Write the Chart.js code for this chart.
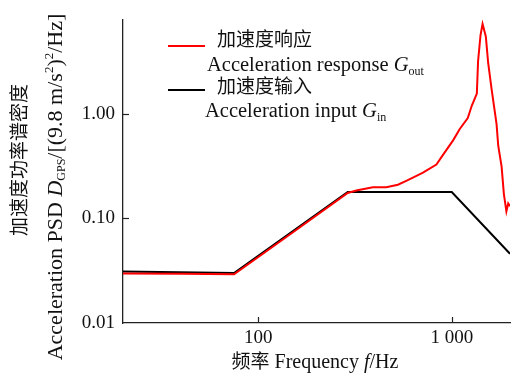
<!DOCTYPE html>
<html>
<head>
<meta charset="utf-8">
<script src="https://cdn.jsdelivr.net/npm/chart.js@4/dist/chart.umd.min.js"></script>
<style>
  html, body { margin: 0; padding: 0; background: #fff; }
  #wrap { width: 511px; height: 383px; }
</style>
</head>
<body>
<div id="wrap"><canvas id="c" width="511" height="383"></canvas></div>
<script>
// Input PSD profile (Hz, (9.8 m/s^2)^2/Hz)
const inputFreq = [20, 75, 290, 1000, 2000];
const inputPsd = [0.031, 0.030, 0.179, 0.179, 0.046];

// Measured response PSD
const respFreq = [20, 40, 75, 150, 290, 321, 391, 459, 527, 582, 630, 710, 833, 901, 1016, 1100, 1210, 1270, 1348, 1368, 1408, 1443, 1500, 1542, 1606, 1704, 1738, 1810, 1859, 1916, 1958, 2000];
const respPsd = [0.0298, 0.0296, 0.0292, 0.073, 0.175, 0.185, 0.199, 0.199, 0.210, 0.229, 0.246, 0.274, 0.327, 0.405, 0.558, 0.717, 0.91, 1.2, 1.56, 3.2, 5.64, 7.24, 5.49, 3.08, 1.73, 0.80, 0.50, 0.313, 0.172, 0.117, 0.139, 0.131];

// Axis ticks
const xTicks = [100, 1000];
const xTickLabels = ['100', '1 000'];
const yTicks = [0.01, 0.1, 1];
const yTickLabels = ['0.01', '0.10', '1.00'];

const SERIF = "'Liberation Serif', 'Times New Roman', serif";
const CJK = "'Noto Sans CJK SC', sans-serif";

function toPoints(xs, ys) { return xs.map((x, i) => ({ x: x, y: ys[i] })); }

// Draw a run of text pieces with their own fonts and vertical offsets
function drawRich(ctx, runs, x, y, align) {
  let total = 0;
  runs.forEach(r => { ctx.font = r[1]; total += ctx.measureText(r[0]).width; });
  let cx = align === 'center' ? x - total / 2 : x;
  runs.forEach(r => {
    ctx.font = r[1];
    ctx.fillText(r[0], cx, y + (r[2] || 0));
    cx += ctx.measureText(r[0]).width;
  });
}

const decorations = {
  id: 'decorations',
  afterDraw(chart) {
    const ctx = chart.ctx;
    const xs = chart.scales.x, ys = chart.scales.y;
    const area = chart.chartArea;
    ctx.save();
    // inward tick marks
    ctx.strokeStyle = '#222';
    ctx.lineWidth = 1.2;
    xTicks.forEach(v => {
      const px = Math.round(xs.getPixelForValue(v)) + 0.5;
      ctx.beginPath(); ctx.moveTo(px, area.bottom); ctx.lineTo(px, area.bottom - 6); ctx.stroke();
    });
    yTicks.slice(1).forEach(v => {
      const py = Math.round(ys.getPixelForValue(v)) + 0.5;
      ctx.beginPath(); ctx.moveTo(area.left, py); ctx.lineTo(area.left + 6, py); ctx.stroke();
    });

    ctx.fillStyle = '#111';
    ctx.textAlign = 'left';

    // x axis title
    ctx.textBaseline = 'alphabetic';
    drawRich(ctx, [
      ['频率', '19px ' + CJK, 0],
      [' Frequency ', '20px ' + SERIF, 0],
      ['f', 'italic 20px ' + SERIF, 0],
      ['/Hz', '20px ' + SERIF, 0]
    ], 315, 368, 'center');

    // y axis title (two rotated lines)
    ctx.save();
    ctx.translate(18.5, 160);
    ctx.rotate(-Math.PI / 2);
    ctx.textBaseline = 'middle';
    drawRich(ctx, [['加速度功率谱密度', '19px ' + CJK, 0]], 0, 0, 'center');
    ctx.restore();

    ctx.save();
    ctx.translate(61.5, 187);
    ctx.rotate(-Math.PI / 2);
    ctx.textBaseline = 'alphabetic';
    drawRich(ctx, [
      ['Acceleration PSD ', '22px ' + SERIF, 0],
      ['D', 'italic 22px ' + SERIF, 0],
      ['GPS', '12px ' + SERIF, 3],
      ['/[(9.8 m/s', '22px ' + SERIF, 0],
      ['2', '13px ' + SERIF, -9],
      [')', '22px ' + SERIF, 0],
      ['2', '13px ' + SERIF, -9],
      ['/Hz]', '22px ' + SERIF, 0]
    ], 0, 0, 'center');
    ctx.restore();

    // legend
    ctx.lineWidth = 2;
    ctx.strokeStyle = '#ff0000';
    ctx.beginPath(); ctx.moveTo(168, 46); ctx.lineTo(205, 46); ctx.stroke();
    ctx.strokeStyle = '#000';
    ctx.beginPath(); ctx.moveTo(168, 90); ctx.lineTo(205, 90); ctx.stroke();

    ctx.textBaseline = 'middle';
    drawRich(ctx, [['加速度响应', '19px ' + CJK, 0]], 217, 38.5, 'left');
    drawRich(ctx, [['加速度输入', '19px ' + CJK, 0]], 217, 86, 'left');
    ctx.textBaseline = 'alphabetic';
    drawRich(ctx, [
      ['Acceleration response ', '20.5px ' + SERIF, 0],
      ['G', 'italic 20.5px ' + SERIF, 0],
      ['out', '12px ' + SERIF, 4]
    ], 207, 71, 'left');
    drawRich(ctx, [
      ['Acceleration input ', '20.5px ' + SERIF, 0],
      ['G', 'italic 20.5px ' + SERIF, 0],
      ['in', '12px ' + SERIF, 4]
    ], 205, 117, 'left');
    ctx.restore();
  }
};

new Chart(document.getElementById('c'), {
  type: 'line',
  data: {
    datasets: [
      {
        label: '加速度响应',
        data: toPoints(respFreq, respPsd),
        borderColor: '#ff0000',
        borderWidth: 2,
        pointRadius: 0,
        tension: 0,
        fill: false
      },
      {
        label: '加速度输入',
        data: toPoints(inputFreq, inputPsd),
        borderColor: '#000000',
        borderWidth: 2,
        pointRadius: 0,
        tension: 0,
        fill: false
      }
    ]
  },
  options: {
    responsive: false,
    animation: false,
    devicePixelRatio: 1,
    layout: { padding: { top: 10, right: 1, left: 0, bottom: 0 } },
    plugins: { legend: { display: false }, tooltip: { enabled: false } },
    scales: {
      x: {
        type: 'logarithmic',
        min: 20,
        max: 2000,
        afterBuildTicks: s => { s.ticks = xTicks.map(v => ({ value: v })); },
        afterFit: s => { s.height = 60; },
        grid: { display: false, drawTicks: false },
        border: { display: true, color: '#222', width: 1.3 },
        ticks: {
          color: '#111',
          padding: 4,
          maxRotation: 0,
          font: { family: SERIF, size: 19 },
          callback: (v) => { const i = xTicks.indexOf(v); return i >= 0 ? xTickLabels[i] : ''; }
        }
      },
      y: {
        type: 'logarithmic',
        min: 0.01,
        max: 8,
        afterBuildTicks: s => { s.ticks = yTicks.map(v => ({ value: v })); },
        afterFit: s => { s.width = 123; },
        grid: { display: false, drawTicks: false },
        border: { display: true, color: '#222', width: 1.3 },
        ticks: {
          color: '#111',
          padding: 8,
          font: { family: SERIF, size: 19 },
          callback: (v) => { const i = yTicks.findIndex(t => Math.abs(t - v) < 1e-9); return i >= 0 ? yTickLabels[i] : ''; }
        }
      }
    }
  },
  plugins: [decorations]
});
</script>
</body>
</html>
